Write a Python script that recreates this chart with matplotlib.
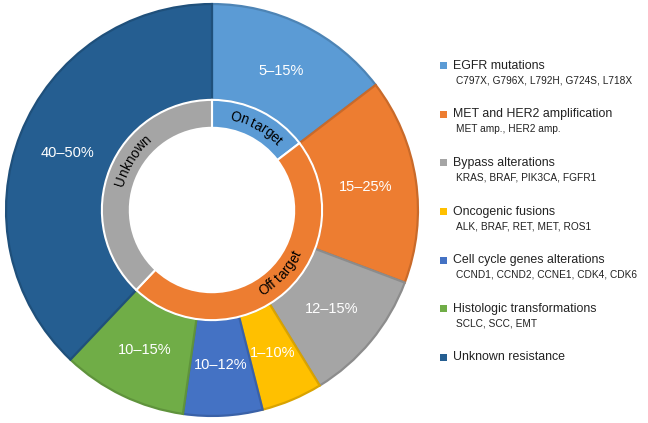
import numpy as np
import matplotlib
matplotlib.use("Agg")
import matplotlib.pyplot as plt
from matplotlib.patches import Rectangle
from matplotlib.colors import to_rgb

plt.rcParams['font.family'] = ['Liberation Sans', 'DejaVu Sans']

# ------------------------------------------------------------------
# Data (shares, in percent of the circle)
# ------------------------------------------------------------------
categories = ['EGFR mutations', 'MET and HER2 amplification', 'Bypass alterations',
              'Oncogenic fusions', 'Cell cycle genes alterations',
              'Histologic transformations', 'Unknown resistance']
details = ['C797X, G796X, L792H, G724S, L718X', 'MET amp., HER2 amp.',
           'KRAS, BRAF, PIK3CA, FGFR1', 'ALK, BRAF, RET, MET, ROS1',
           'CCND1, CCND2, CCNE1, CDK4, CDK6', 'SCLC, SCC, EMT', '']
shares = [14.6, 16.1, 10.5, 4.8, 6.2, 9.8, 37.9]
range_labels = ['5–15%', '15–25%', '12–15%', '1–10%', '10–12%', '10–15%', '40–50%']
colors = ['#5B9BD5', '#ED7D31', '#A5A5A5', '#FFC000', '#4472C4', '#70AD47', '#255E91']

groups = ['On target', 'Off target', 'Unknown']
group_shares = [shares[0], sum(shares[1:6]), shares[6]]
group_colors = ['#5B9BD5', '#ED7D31', '#A5A5A5']


def darker(c, f=0.85):
    return tuple(v * f for v in to_rgb(c))


fig = plt.figure(figsize=(6.48, 4.23), dpi=100)
ax = fig.add_axes([5 / 648, 6 / 423, 414 / 648, 414 / 423])

r_out = 0.995
r_mid = 0.532
r_in = 0.397

# Outer ring
wedges, _ = ax.pie(shares, radius=r_out, startangle=90, counterclock=False,
                   colors=colors,
                   wedgeprops=dict(width=r_out - r_mid, linewidth=0))
for w, c in zip(wedges, colors):
    w.set_edgecolor(darker(c))
    w.set_linewidth(1.6)

# Inner ring
inner, _ = ax.pie(group_shares, radius=r_mid, startangle=90, counterclock=False,
                  colors=group_colors,
                  wedgeprops=dict(width=r_mid - r_in, edgecolor='white', linewidth=1.5))

ax.set_xlim(-1.0, 1.0)
ax.set_ylim(-1.0, 1.0)
ax.set_aspect('equal')
ax.axis('off')

for w, lab in zip(wedges, range_labels):
    ang = np.deg2rad((w.theta1 + w.theta2) / 2)
    rr = 0.75
    ax.text(rr * np.cos(ang), rr * np.sin(ang), lab, color='white',
            fontsize=10.5, ha='center', va='center')


def curved_text(text, mid_deg, radius, clockwise, size=9.8):
    # place characters one by one along the arc
    fig.canvas.draw()
    px_per_unit = ax.transData.transform((1, 0))[0] - ax.transData.transform((0, 0))[0]
    widths = []
    for ch in text:
        if ch == ' ':
            widths.append(size * 0.278 * 100 / 72)
            continue
        t = ax.text(0, 0, ch, fontsize=size)
        bb = t.get_window_extent(renderer=fig.canvas.get_renderer())
        t.remove()
        widths.append(bb.width)
    arcs = np.array(widths) / px_per_unit / radius
    total = arcs.sum()
    sign = -1 if clockwise else 1
    pos = np.deg2rad(mid_deg) - sign * total / 2
    for ch, a in zip(text, arcs):
        cang = pos + sign * a / 2
        rot = np.rad2deg(cang) - 90 if clockwise else np.rad2deg(cang) + 90
        ax.text(radius * np.cos(cang), radius * np.sin(cang), ch, fontsize=size,
                rotation=rot, rotation_mode='anchor', ha='center', va='center')
        pos += sign * a


curved_text('On target', 62, 0.462, clockwise=True)
curved_text('Off target', -43, 0.462, clockwise=False)
curved_text('Unknown', 148, 0.462, clockwise=True)

# Legend
x_box = 443 / 648
x_txt = 453 / 648
y0 = 66
step = 48.5
for i, (cat, det, c) in enumerate(zip(categories, details, colors)):
    yp = y0 + i * step
    fig.add_artist(Rectangle((x_box - 3.5 / 648, 1 - (yp + 3.5) / 423), 7 / 648, 7 / 423,
                             transform=fig.transFigure, facecolor=c, edgecolor='none'))
    fig.text(x_txt, 1 - yp / 423, cat, fontsize=8.9, color='#222222',
             ha='left', va='center')
    if det:
        fig.text(x_txt + 3 / 648, 1 - (yp + 14.5) / 423, det, fontsize=7.3,
                 color='#222222', ha='left', va='center')

fig.savefig('out.png', dpi=100)
